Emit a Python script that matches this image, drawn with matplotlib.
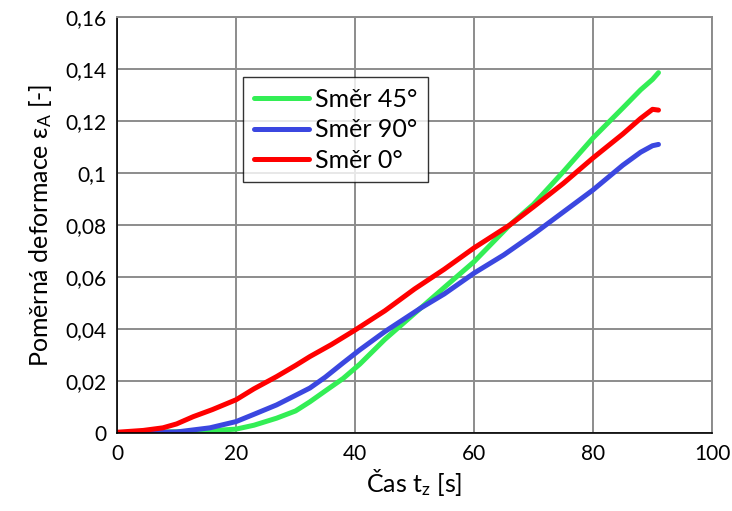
import numpy as np
import matplotlib.pyplot as plt
from matplotlib.ticker import FuncFormatter

plt.rcParams['font.family'] = ['Lato', 'DejaVu Sans']
plt.rcParams['mathtext.default'] = 'regular'

# time [s] and strain for each direction
t_45 = [0, 5, 10, 15, 20, 23, 26.8, 30, 32.4, 35, 38, 40.8, 45, 51, 55, 60, 66, 70, 75, 80, 85, 88, 90, 91]
eps_45 = [0, 0.0003, 0.0005, 0.0008, 0.0015, 0.003, 0.0057, 0.0085, 0.012, 0.0162, 0.021, 0.0265,
          0.036, 0.048, 0.056, 0.0659, 0.08, 0.088, 0.1005, 0.1135, 0.125, 0.132, 0.136, 0.1386]

t_90 = [0, 5, 10, 15.6, 20, 23, 26.8, 30, 32.4, 35, 38, 40.8, 45, 51, 55, 60, 65, 70, 75, 80, 85, 88, 90, 91]
eps_90 = [0, 0.0002, 0.0004, 0.002, 0.0044, 0.0072, 0.0108, 0.0145, 0.0173, 0.0215, 0.027, 0.032,
          0.039, 0.048, 0.0535, 0.0615, 0.0685, 0.0765, 0.085, 0.0935, 0.103, 0.108, 0.1105, 0.111]

t_0 = [0, 4.4, 7.7, 10, 12.8, 16, 20, 23, 26.8, 30, 32.4, 36, 40, 45, 50, 55, 60, 66, 70, 75, 80, 85, 88, 90, 91]
eps_0 = [0.0003, 0.001, 0.002, 0.0035, 0.0063, 0.009, 0.0128, 0.017, 0.0217, 0.026, 0.0294, 0.034,
         0.0396, 0.047, 0.0554, 0.063, 0.0712, 0.08, 0.087, 0.096, 0.1058, 0.115, 0.121, 0.1245, 0.1242]

fig = plt.figure(figsize=(7.32, 5.11), dpi=100)
ax = fig.add_axes([0.16, 0.1526, 0.8127, 0.8141])

ax.plot(t_45, eps_45, color='#33ee55', linewidth=3.6, label='Směr 45°', solid_capstyle='round')
ax.plot(t_90, eps_90, color='#3b47e0', linewidth=3.6, label='Směr 90°', solid_capstyle='round')
ax.plot(t_0, eps_0, color='#ff0000', linewidth=3.6, label='Směr 0°', solid_capstyle='round')

ax.set_xlim(0, 100)
ax.set_ylim(0, 0.16)
ax.set_xticks(np.arange(0, 101, 20))
ax.set_yticks(np.arange(0, 0.161, 0.02))
ax.yaxis.set_major_formatter(FuncFormatter(lambda v, p: ('%g' % round(v, 2)).replace('.', ',')))
ax.grid(True, color='#8c8c8c', linewidth=1.4)
ax.set_axisbelow(True)
ax.tick_params(length=0, labelsize=15, pad=8)

for s in ['top', 'right']:
    ax.spines[s].set_color('#8c8c8c')
    ax.spines[s].set_linewidth(1.4)
for s in ['left', 'bottom']:
    ax.spines[s].set_color('black')
    ax.spines[s].set_linewidth(1.2)

ax.set_xlabel('Čas t$_z$ [s]', fontsize=18, labelpad=2)
ax.set_ylabel('Poměrná deformace ε$_A$ [-]', fontsize=18, labelpad=8)

leg = ax.legend(loc='upper left', bbox_to_anchor=(0.212, 0.855), fontsize=18, frameon=True,
                fancybox=False, edgecolor='black', handlelength=2.2, borderpad=0.42,
                labelspacing=0.3, handletextpad=0.25, borderaxespad=0)
leg.get_frame().set_linewidth(1.0)

plt.savefig('out.png', dpi=100)
